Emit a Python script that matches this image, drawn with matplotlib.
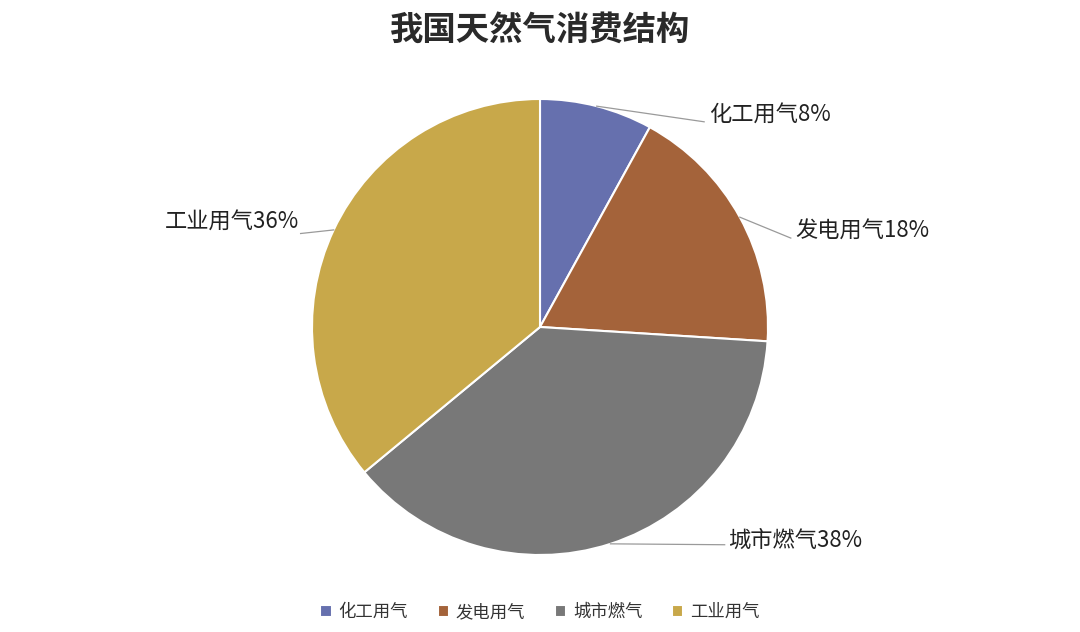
import matplotlib
matplotlib.use("Agg")
import matplotlib.pyplot as plt
import numpy as np

plt.rcParams['font.family'] = ['Noto Sans CJK SC', 'DejaVu Sans']

# data
categories = ['化工用气', '发电用气', '城市燃气', '工业用气']
shares = [8, 18, 38, 36]
colors = ['#6670AE', '#A4633A', '#787878', '#C8A84A']

# label placement (data coords, pie radius = 1), leader line end and text anchor
label_pos = [(0.72, 0.90), (1.10, 0.39), (0.81, -0.955), (-1.05, 0.41)]
text_pos = [(0.74, 0.93), (1.12, 0.42), (0.825, -0.935), (-1.055, 0.46)]
text_ha = ['left', 'left', 'left', 'right']

fig = plt.figure(figsize=(10.8, 6.32), dpi=100)
fig.patch.set_facecolor('white')

W, H = 1080, 632
cx, cy, r = 540, 327, 228
ax = fig.add_axes([(cx - r) / W, (H - cy - r) / H, 2 * r / W, 2 * r / H])

wedges, _ = ax.pie(shares, colors=colors, startangle=90, counterclock=False,
                   radius=1, wedgeprops=dict(edgecolor='white', linewidth=1.5))
ax.set_xlim(-1, 1)
ax.set_ylim(-1, 1)
ax.set_aspect('equal')
ax.axis('off')

for w, cat, s, lp, tp, ha in zip(wedges, categories, shares, label_pos, text_pos, text_ha):
    ang = np.deg2rad((w.theta1 + w.theta2) / 2)
    x0, y0 = np.cos(ang), np.sin(ang)
    ax.plot([x0, lp[0]], [y0, lp[1]], color='#9a9a9a', linewidth=0.9, clip_on=False)
    ax.text(tp[0], tp[1], f'{cat}{s}%', ha=ha, va='center', fontsize=16,
            color='#222222', clip_on=False)

fig.text(0.5, 1 - 30 / H, '我国天然气消费结构', ha='center', va='center',
         fontsize=24, fontweight='heavy', color='#2a2a2a')

fig.legend(wedges, categories, loc='center', bbox_to_anchor=(0.5, 1 - 612 / H),
           ncol=4, frameon=False, fontsize=12.5, handlelength=0.65, handleheight=0.65,
           handletextpad=0.4, columnspacing=1.7, labelcolor='#333333')

fig.savefig('out.png', dpi=100, facecolor='white')
